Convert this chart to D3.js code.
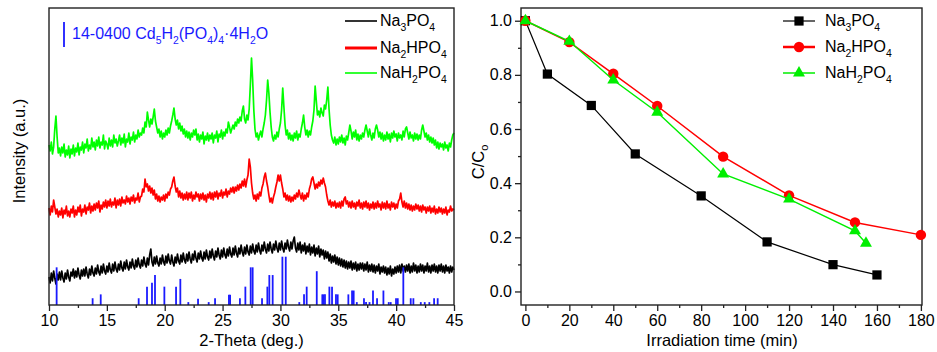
<!DOCTYPE html>
<html><head><meta charset="utf-8">
<script src="https://cdn.jsdelivr.net/npm/d3@7"></script>
<style>
body{margin:0;background:#fff}
svg{display:block}
text{font-family:"Liberation Sans",Arial,Helvetica,sans-serif;fill:#000}
</style>
</head><body>
<svg id="c" width="937" height="352"></svg>
<script>
// ---------- XRD data (left panel), 2θ from 10° to 45° every 0.1° ----------
const thetaStart = 10, thetaStep = 0.1;
const xrdNa3PO4 = [
28,22,32,24,34,27,21,31,25,33,
25,34,27,23,32,26,35,28,24,33,
29,36,27,34,28,37,30,26,35,29,
36,29,38,31,27,36,30,39,32,29,
37,31,40,33,30,39,32,41,34,31,
39,33,42,35,32,41,34,43,36,33,
41,35,44,37,34,43,36,45,38,35,
43,37,46,39,36,45,38,47,40,37,
45,39,48,41,38,47,40,50,56,43,
39,48,41,49,42,39,47,41,50,43,
40,49,42,51,44,41,50,43,39,48,
42,51,44,41,50,43,52,45,42,51,
44,53,46,42,51,45,54,47,43,52,
46,54,47,44,53,46,55,48,45,54,
47,56,49,45,54,48,57,50,46,55,
48,57,50,47,56,49,58,51,48,57,
50,59,52,48,57,51,60,53,49,58,
51,60,53,50,59,52,61,54,51,60,
53,62,55,51,60,54,63,56,52,61,
54,63,56,52,61,55,64,57,53,62,
55,64,57,53,62,56,65,58,54,63,
56,64,68,57,53,62,55,63,52,60,
54,62,51,59,53,61,50,58,52,60,
49,57,51,59,48,56,50,55,46,54,
47,53,44,51,42,49,43,50,41,48,
40,47,39,46,38,45,37,44,36,43,
37,44,35,42,36,43,34,41,35,42,
36,42,34,41,35,43,33,40,34,41,
33,40,32,39,34,41,31,38,33,39,
32,38,30,37,31,39,29,36,31,38,
32,39,33,40,32,41,34,39,33,40,
34,41,32,39,33,42,34,40,32,39,
33,41,34,40,32,39,34,42,33,39,
32,40,34,41,33,39,32,40,34,41,
33,39,32,40,34,38,32,39,33,38,
35];
const xrdNa2HPO4 = [
97,90,99,93,105,98,91,96,88,94,
90,97,87,95,91,99,89,94,88,96,
92,99,88,95,90,98,93,100,89,96,
93,100,91,98,95,102,92,99,94,101,
95,102,97,104,93,100,96,103,98,105,
97,104,99,106,98,103,100,107,97,105,
100,106,99,108,102,105,101,109,103,107,
101,108,104,110,102,107,105,112,103,108,
109,116,113,126,118,121,114,119,112,117,
110,115,106,111,104,109,103,108,105,110,
104,111,107,113,110,116,118,124,128,119,
113,117,108,114,107,112,105,111,106,113,
105,112,107,113,104,110,106,113,108,111,
104,111,106,112,105,110,103,111,107,113,
106,112,105,113,108,114,106,112,109,115,
107,113,110,116,108,114,111,117,113,118,
112,118,114,120,115,121,117,124,119,126,
118,125,130,146,138,122,112,106,110,104,
111,106,113,109,117,121,128,132,124,118,
110,103,107,102,108,112,118,123,130,124,
130,122,116,108,112,105,110,104,109,103,
108,104,110,106,112,108,115,110,106,112,
104,110,106,112,108,116,120,126,128,122,
116,121,117,123,119,125,121,127,122,118,
110,104,100,105,98,103,99,104,97,102,
98,103,97,104,99,106,108,101,104,98,
103,97,104,98,102,96,103,99,105,97,
102,96,103,98,104,97,102,95,101,97,
103,96,102,97,104,98,101,95,103,97,
102,96,104,97,101,95,103,98,102,96,
101,97,104,106,112,103,98,104,97,102,
96,101,95,100,94,99,95,101,96,100,
94,99,93,100,95,98,92,98,94,99,
92,97,93,99,91,96,92,98,93,97,
91,96,92,98,90,95,93,99,94,96,
95];
const xrdNaH2PO4 = [
160,154,163,151,158,176,189,168,152,157,
149,158,152,161,148,155,150,159,147,156,
151,160,149,157,153,162,150,158,155,163,
152,161,157,166,154,160,156,167,158,163,
155,165,159,168,157,163,160,170,156,164,
161,156,167,159,165,158,170,162,166,159,
164,170,160,167,162,171,158,166,163,172,
161,168,165,173,163,170,166,175,168,172,
170,177,172,183,178,193,185,178,186,181,
188,196,184,178,172,176,168,174,166,172,
168,175,170,177,172,179,184,190,197,186,
180,185,176,182,174,179,171,176,168,174,
167,173,165,172,168,175,170,176,165,171,
163,170,166,173,161,169,165,172,164,170,
166,172,162,170,167,174,163,171,168,175,
166,173,169,176,172,183,178,172,176,180,
176,183,179,186,182,188,184,194,199,186,
182,190,185,196,220,247,225,195,176,168,
172,165,170,174,168,176,182,190,205,225,
212,193,178,168,164,170,166,173,168,176,
182,195,217,198,180,170,175,166,172,165,
170,164,172,167,174,165,171,168,176,182,
190,178,170,175,168,174,170,178,184,195,
219,204,190,194,188,197,192,189,200,196,
205,218,196,180,170,165,162,168,160,166,
161,168,163,170,162,167,160,169,165,172,
180,174,166,173,168,175,165,171,164,170,
166,172,168,175,180,174,168,176,170,165,
172,167,176,180,175,168,173,166,172,164,
170,165,173,166,171,163,172,167,174,168,
171,164,172,167,170,165,174,168,176,178,
172,166,173,167,170,164,172,166,171,165,
170,166,175,180,174,168,172,165,170,163,
168,162,167,160,165,157,163,156,162,158,
161,155,163,157,160,154,162,158,165,170,
172];
// reference pattern 14-0400 Cd5H2(PO4)4·4H2O
const stickTheta = [10.66,13.77,14.47,17.75,18.47,18.9,19.16,19.97,20.98,21.35,22.04,22.88,23.8,24.35,25.55,25.65,26.5,26.97,27.43,27.6,28.41,28.87,29.04,29.33,30.17,30.46,31.63,32.04,32.27,33.14,33.62,33.72,33.85,34.23,34.46,34.8,34.95,35.87,36.19,36.33,36.6,37.22,37.4,37.7,38.0,38.35,38.9,39.36,39.53,39.99,40.14,40.62,41.26,41.49,42.13,42.47,42.87,43.28,43.59];
const stickIntensity = [78,14,22,14,38,46,62,38,38,54,6,13,6,14,21,21,14,38,78,78,14,38,62,62,100,100,6,22,38,70,22,22,22,38,38,22,22,22,30,30,6,14,6,6,30,14,30,6,6,14,14,78,14,14,6,6,6,14,14];
const xrdTicks = [10,15,20,25,30,35,40,45];
const xrdMinorTicks = [12.5,17.5,22.5,27.5,32.5,37.5,42.5];
const xrdNames = ["Na3PO4","Na2HPO4","NaH2PO4"];
const xrdColors = ["#000000","#ff0000","#00ff00"];

// ---------- Photodegradation data (right panel) ----------
const timeNa3PO4 = [0,10,30,50,80,110,140,160];
const ccNa3PO4   = [1.0,0.803,0.687,0.508,0.353,0.183,0.099,0.061];
const timeNa2HPO4 = [0,20,40,60,90,120,150,180];
const ccNa2HPO4   = [1.0,0.921,0.804,0.685,0.498,0.355,0.255,0.209];
const timeNaH2PO4 = [0,20,40,60,90,120,150,155];
const ccNaH2PO4   = [1.0,0.924,0.781,0.662,0.434,0.341,0.224,0.178];
const timeTicks = [0,20,40,60,80,100,120,140,160,180];
const timeMinorTicks = [10,30,50,70,90,110,130,150,170];
const ccTicks = [0.0,0.2,0.4,0.6,0.8,1.0];
const ccMinorTicks = [0.1,0.3,0.5,0.7,0.9];

const svg = d3.select("#c");

// chemical formula helper: digits after a letter or ')' are subscripts
function chem(textSel, str, fs) {
  let prevSub = false;
  let buf = "", bufSub = false;
  const segs = [];
  for (let i = 0; i < str.length; i++) {
    const ch = str[i], prev = i > 0 ? str[i-1] : "";
    const isDigit = /[0-9]/.test(ch);
    const sub = isDigit && (/[A-Za-z)]/.test(prev) || (prevSub && /[0-9]/.test(prev)));
    if (i === 0) { buf = ch; bufSub = sub; }
    else if (sub === bufSub) buf += ch;
    else { segs.push([buf, bufSub]); buf = ch; bufSub = sub; }
    prevSub = sub;
  }
  segs.push([buf, bufSub]);
  let shifted = false;
  segs.forEach(([t, s]) => {
    const ts = textSel.append("tspan").text(t);
    if (s) { ts.attr("font-size", fs * 0.65).attr("dy", shifted ? 0 : fs * 0.3); shifted = true; }
    else { ts.attr("dy", shifted ? -fs * 0.3 : 0); shifted = false; }
  });
}

// ================= LEFT PANEL =================
const L = {x0: 49, x1: 454, y0: 8, y1: 305};
const xL = d3.scaleLinear().domain([10, 45]).range([L.x0, L.x1]);
const yL = d3.scaleLinear().domain([0, 297]).range([L.y1, L.y0]);
const ySt = d3.scaleLinear().domain([0, 100]).range([L.y1, 256.7]);

const gL = svg.append("g");
const xrdSeries = [xrdNa3PO4, xrdNa2HPO4, xrdNaH2PO4];
const lineL = d3.line().x((d, i) => xL(thetaStart + i * thetaStep)).y(d => yL(d));
[2, 1, 0].forEach(k => {
  gL.append("path").datum(xrdSeries[k]).attr("d", lineL)
    .attr("fill", "none").attr("stroke", xrdColors[k]).attr("stroke-width", 1.7)
    .attr("stroke-linejoin", "round");
});
// sticks
gL.selectAll("line.stick").data(stickTheta).join("line").attr("class", "stick")
  .attr("x1", d => xL(d)).attr("x2", d => xL(d))
  .attr("y1", ySt(0)).attr("y2", (d, i) => ySt(stickIntensity[i]))
  .attr("stroke", "#1a1aff").attr("stroke-width", 1.8);

// frame
gL.append("rect").attr("x", L.x0).attr("y", L.y0).attr("width", L.x1 - L.x0).attr("height", L.y1 - L.y0)
  .attr("fill", "none").attr("stroke", "#222").attr("stroke-width", 1.4);
// axes
const axL = gL.append("g").attr("transform", `translate(0,${L.y1})`)
  .call(d3.axisBottom(xL).tickValues(xrdTicks).tickSize(6).tickPadding(4));
const axLm = gL.append("g").attr("transform", `translate(0,${L.y1})`)
  .call(d3.axisBottom(xL).tickValues(xrdMinorTicks).tickSize(3).tickFormat(""));
[axL, axLm].forEach(a => { a.select(".domain").remove(); a.selectAll("line").attr("stroke", "#222").attr("stroke-width", 1.3); });
axL.selectAll("text").attr("font-size", 16).attr("font-family", "Liberation Sans, Arial, sans-serif").attr("fill", "#000");

gL.append("text").attr("x", (L.x0 + L.x1) / 2).attr("y", 346).attr("text-anchor", "middle")
  .attr("font-size", 16.5).text("2-Theta (deg.)");
gL.append("text").attr("transform", `translate(25,151) rotate(-90)`).attr("text-anchor", "middle")
  .attr("font-size", 16.5).text("Intensity (a.u.)");

// reference legend
gL.append("line").attr("x1", 64).attr("x2", 64).attr("y1", 22).attr("y2", 47)
  .attr("stroke", "#1a1aff").attr("stroke-width", 1.8);
const refT = gL.append("text").attr("x", 72).attr("y", 39).attr("font-size", 16).style("fill", "#1a1aff");
chem(refT, "14-0400 Cd5H2(PO4)4·4H2O", 16);

// series legend
const legY = [21, 48, 73];
xrdNames.forEach((n, k) => {
  gL.append("line").attr("x1", 345).attr("x2", 377).attr("y1", legY[k]).attr("y2", legY[k])
    .attr("stroke", xrdColors[k]).attr("stroke-width", k === 1 ? 3 : 1.6);
  const t = gL.append("text").attr("x", 380).attr("y", legY[k] + 5).attr("font-size", 16);
  chem(t, n, 16);
});

// ================= RIGHT PANEL =================
const R = {x0: 521, x1: 922, y0: 8, y1: 305};
const xR = d3.scaleLinear().domain([-2, 180.5]).range([R.x0, R.x1]);
const yR = d3.scaleLinear().domain([-0.05, 1.047]).range([R.y1, R.y0]);
const gR = svg.append("g");

gR.append("rect").attr("x", R.x0).attr("y", R.y0).attr("width", R.x1 - R.x0).attr("height", R.y1 - R.y0)
  .attr("fill", "none").attr("stroke", "#222").attr("stroke-width", 1.4);

const axRx = gR.append("g").attr("transform", `translate(0,${R.y1})`)
  .call(d3.axisBottom(xR).tickValues(timeTicks).tickSize(6).tickPadding(4));
const axRxm = gR.append("g").attr("transform", `translate(0,${R.y1})`)
  .call(d3.axisBottom(xR).tickValues(timeMinorTicks).tickSize(3).tickFormat(""));
const axRy = gR.append("g").attr("transform", `translate(${R.x0},0)`)
  .call(d3.axisLeft(yR).tickValues(ccTicks).tickSize(6).tickPadding(3).tickFormat(d3.format(".1f")));
const axRym = gR.append("g").attr("transform", `translate(${R.x0},0)`)
  .call(d3.axisLeft(yR).tickValues(ccMinorTicks).tickSize(3).tickFormat(""));
[axRx, axRxm, axRy, axRym].forEach(a => { a.select(".domain").remove(); a.selectAll("line").attr("stroke", "#222").attr("stroke-width", 1.3); });
[axRx, axRy].forEach(a => a.selectAll("text").attr("font-size", 16).attr("font-family", "Liberation Sans, Arial, sans-serif").attr("fill", "#000"));

gR.append("text").attr("x", 722).attr("y", 346).attr("text-anchor", "middle")
  .attr("font-size", 16.5).text("Irradiation time (min)");
const yt = gR.append("text").attr("transform", `translate(484,162) rotate(-90)`).attr("text-anchor", "middle")
  .attr("font-size", 16.5);
yt.append("tspan").text("C/C");
yt.append("tspan").attr("font-size", 11).attr("dy", 4).text("o");

const kin = [
  {name: "Na3PO4", t: timeNa3PO4, c: ccNa3PO4, color: "#000000", lw: 1.2, mark: "square"},
  {name: "Na2HPO4", t: timeNa2HPO4, c: ccNa2HPO4, color: "#ff0000", lw: 1.5, mark: "circle"},
  {name: "NaH2PO4", t: timeNaH2PO4, c: ccNaH2PO4, color: "#00ee00", lw: 1.5, mark: "triangle"}
];
const markerPath = {
  square: d3.symbol().type(d3.symbolSquare).size(85)(),
  circle: d3.symbol().type(d3.symbolCircle).size(85)(),
  triangle: d3.symbol().type(d3.symbolTriangle).size(62)()
};
kin.forEach(s => {
  const pts = s.t.map((t, i) => [t, s.c[i]]);
  gR.append("path").datum(pts)
    .attr("d", d3.line().x(d => xR(d[0])).y(d => yR(d[1])))
    .attr("fill", "none").attr("stroke", s.color).attr("stroke-width", s.lw);
  gR.selectAll(null).data(pts).join("path")
    .attr("d", markerPath[s.mark])
    .attr("transform", d => `translate(${xR(d[0])},${yR(d[1])})`)
    .attr("fill", s.color);
});

// right legend
const legRY = [21, 47, 73];
kin.forEach((s, k) => {
  gR.append("line").attr("x1", 783).attr("x2", 815).attr("y1", legRY[k]).attr("y2", legRY[k])
    .attr("stroke", s.color).attr("stroke-width", s.lw + (k === 1 ? 1 : 0));
  gR.append("path").attr("d", markerPath[s.mark]).attr("transform", `translate(799,${legRY[k]})`).attr("fill", s.color);
  const t = gR.append("text").attr("x", 825).attr("y", legRY[k] + 5).attr("font-size", 16);
  chem(t, s.name, 16);
});
</script>
</body></html>
